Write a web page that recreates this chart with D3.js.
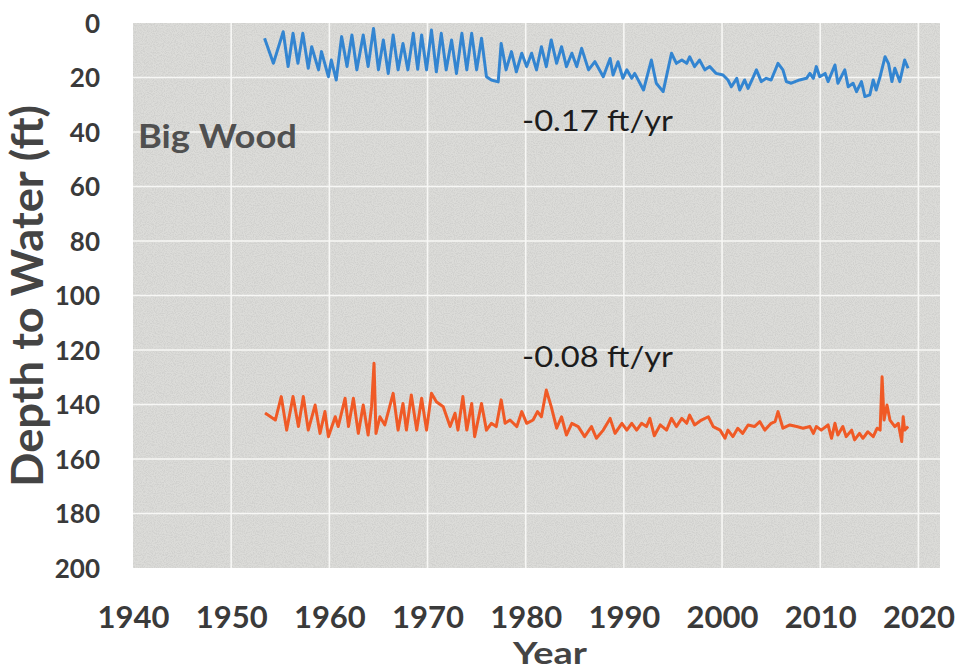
<!DOCTYPE html>
<html>
<head>
<meta charset="utf-8">
<script src="https://cdn.jsdelivr.net/npm/d3@7"></script>
<style>
  body { margin: 0; background: #fff; }
  svg { display: block; }
</style>
</head>
<body>
<div id="chart"></div>
<script>
// Big Wood wells, depth to water (ft)
const shallowYears = [1953.4,1954.3,1955.3,1955.8,1956.3,1956.8,1957.3,1957.85,1958.2,1958.9,1959.2,1959.9,1960.2,1960.7,1961.25,1961.8,1962.3,1962.8,1963.45,1963.95,1964.5,1965,1965.5,1966,1966.5,1967,1967.5,1968,1968.55,1969,1969.4,1969.9,1970.4,1970.9,1971.4,1971.9,1972.45,1972.95,1973.5,1974,1974.5,1975,1975.5,1976,1976.5,1977.2,1977.5,1978,1978.55,1979.05,1979.6,1980.1,1980.6,1981.1,1981.6,1982.1,1982.6,1983.15,1983.65,1984.15,1984.7,1985.2,1985.7,1986.4,1987.05,1987.9,1988.6,1988.9,1989.4,1989.9,1990.3,1990.8,1991.1,1992,1992.8,1993.3,1994,1994.85,1995.35,1995.9,1996.4,1996.7,1997.2,1997.7,1998.25,1998.75,1999.4,2000.1,2000.6,2000.95,2001.5,2001.8,2002.3,2002.65,2003.2,2003.5,2004,2004.5,2005,2005.7,2006.2,2006.55,2007.05,2007.9,2008.6,2008.95,2009.3,2009.6,2009.95,2010.5,2010.8,2011.5,2011.8,2012.5,2012.85,2013.35,2013.7,2014.2,2014.55,2015.05,2015.4,2015.7,2016.1,2016.6,2016.95,2017.3,2017.6,2018.1,2018.6,2018.95];
const shallowDepth = [5.6,14.8,3.2,16,3.8,14.8,3.8,16.6,8.7,17.2,10.5,19.7,13.6,20.9,5,16,4.4,17.2,4.4,16,2,17.2,6.2,18.5,4.4,17.2,7.5,17.2,3.8,17,4.4,17.2,2.6,17.9,3.8,17.2,6.2,18.5,3.8,17.2,3.8,17.2,5.6,19.7,20.9,21.6,7.5,17.2,10.5,17.9,11.1,16,11.1,17.2,8.7,16,6.2,14.8,8.7,16,11.1,16,9.3,17.2,14.2,19.7,13,19.1,14.2,20.3,17.2,20.3,18.5,24.6,13.6,22.1,25.2,11.1,14.8,13.6,14.8,12.4,16,13.6,17.2,16,18.5,19.1,20.9,23.4,20.3,24.6,20.9,24,19.7,17.2,21.5,20.3,20.9,14.8,17.2,21.5,22.1,20.9,20.3,18.5,20.3,16,19.7,18.5,21.5,15.4,22.1,17.2,23.4,22.1,25.2,21.5,27,26.4,20.9,24.6,19.7,12.4,14.8,21.5,16.6,21.5,13.6,16.6];

const deepYears = [1953.45,1954.5,1955.1,1955.65,1956.3,1956.85,1957.35,1957.85,1958.55,1959.05,1959.55,1959.9,1960.6,1960.9,1961.6,1961.95,1962.45,1962.95,1963.45,1963.95,1964.3,1964.55,1964.75,1965.15,1965.65,1966.5,1967,1967.5,1967.85,1968.35,1968.9,1969.4,1969.9,1970.4,1970.9,1971.6,1972.3,1972.8,1973.1,1973.6,1974,1974.5,1974.8,1975.5,1976,1976.5,1977,1977.5,1977.9,1978.4,1979.1,1979.6,1980.1,1980.75,1981.2,1981.6,1982.1,1982.6,1983.15,1983.65,1984.15,1984.7,1985.35,1986,1986.7,1987.2,1987.9,1988.6,1989.1,1989.8,1990.3,1990.8,1991.3,1991.8,1992.3,1992.65,1993.1,1993.7,1994.35,1994.85,1995.35,1995.9,1996.4,1996.7,1997.2,1997.9,1998.6,1999.1,1999.8,2000.3,2000.6,2001.1,2001.6,2002.1,2002.65,2003.3,2003.85,2004.35,2005,2005.4,2005.7,2006.2,2006.9,2007.6,2008.25,2008.95,2009.3,2009.6,2010.1,2010.8,2011.15,2011.5,2011.8,2012.3,2012.65,2013.2,2013.5,2014,2014.35,2014.85,2015.4,2015.8,2016.1,2016.3,2016.5,2016.8,2017.1,2017.6,2017.95,2018.3,2018.45,2018.6,2018.95];
const deepDepth = [143.1,145.7,137.1,149.4,137.1,148.1,137.1,149.4,140.2,150.6,142.6,151.8,144.5,148.1,137.7,148.1,137.7,150.6,140.2,151.2,140.8,124.9,150.6,144.5,147.5,135.9,149.4,139.6,149.4,136.5,149.4,137.7,149.4,135.9,139,140.8,148.1,143.2,149.4,137.1,149.4,139.6,151.8,139.6,149.4,146.9,148.1,138.3,146.9,145.7,148.1,142.6,146.9,145.7,142.6,144.5,134.7,140.8,148.7,144.5,151.2,146.9,148.1,151.8,148.1,152.4,149.4,145.1,150.6,146.9,149.4,146.9,149.4,146.9,148.1,145.1,151.5,147.5,149.4,145.1,148.1,145.1,146.9,143.9,147.5,145.7,144.5,148.1,149.4,152.4,149.4,151.8,148.7,150.6,147.5,148.1,146.3,149.4,146.9,146.3,142.6,148.7,147.5,148.1,148.7,148.1,150.6,148.1,149.4,147.5,152.4,146.9,151.2,148.1,151.8,149.4,153,150.6,152.4,150,151.8,148.7,149.4,129.8,145.7,140.2,145.7,148.1,146.9,153.6,144.5,149.4,148.1];

const xTicks = [1940, 1950, 1960, 1970, 1980, 1990, 2000, 2010, 2020];
const yTicks = [0, 20, 40, 60, 80, 100, 120, 140, 160, 180, 200];
const trendLabels = ["-0.17 ft/yr", "-0.08 ft/yr"];

const W = 959, H = 670;
const plotLeft = 133, plotRight = 940, plotTop = 23, plotBottom = 568;

const svg = d3.select("#chart").append("svg")
    .attr("width", W)
    .attr("height", H);

// paper-like speckle
const defs = svg.append("defs");
const f = defs.append("filter").attr("id", "speckle").attr("x", 0).attr("y", 0).attr("width", 1).attr("height", 1);
f.append("feTurbulence").attr("type", "fractalNoise").attr("baseFrequency", 0.9).attr("numOctaves", 2).attr("seed", 3);
f.append("feColorMatrix").attr("type", "matrix")
    .attr("values", "0 0 0 0 0.5  0 0 0 0 0.5  0 0 0 0 0.49  0 0 0 -3 1.85");
f.append("feComposite").attr("in2", "SourceGraphic").attr("operator", "in");

const x = d3.scaleLinear().domain([1940, 2022.2]).range([plotLeft, plotRight]);
const y = d3.scaleLinear().domain([0, 200]).range([plotTop, plotBottom]);

svg.append("rect")
    .attr("x", plotLeft).attr("y", plotTop)
    .attr("width", plotRight - plotLeft).attr("height", plotBottom - plotTop)
    .attr("fill", "#dcdcd9");

svg.append("rect")
    .attr("x", plotLeft).attr("y", plotTop)
    .attr("width", plotRight - plotLeft).attr("height", plotBottom - plotTop)
    .attr("fill", "#fff")
    .attr("filter", "url(#speckle)")
    .attr("opacity", 0.35);

// grid
svg.append("g").selectAll("line")
    .data(xTicks.filter(d => d > 1940))
    .enter().append("line")
    .attr("x1", d => x(d)).attr("x2", d => x(d))
    .attr("y1", plotTop).attr("y2", plotBottom)
    .attr("stroke", "#f7f7f5").attr("stroke-width", 1.6);

svg.append("g").selectAll("line")
    .data(yTicks.filter(d => d > 0 && d < 200))
    .enter().append("line")
    .attr("x1", plotLeft).attr("x2", plotRight)
    .attr("y1", d => y(d)).attr("y2", d => y(d))
    .attr("stroke", "#f7f7f5").attr("stroke-width", 1.6);

// axes
const xAxis = svg.append("g")
    .attr("transform", `translate(0,${plotBottom})`)
    .call(d3.axisBottom(x).tickValues(xTicks).tickFormat(d3.format("d")).tickSize(0).tickPadding(38));
xAxis.select(".domain").remove();
xAxis.selectAll("text")
    .style("font-family", "Lato, 'Open Sans', sans-serif")
    .style("font-weight", 700)
    .style("font-size", "31px")
    .attr("fill", "#3a3a3a");

const yAxis = svg.append("g")
    .attr("transform", `translate(${plotLeft},0)`)
    .call(d3.axisLeft(y).tickValues(yTicks).tickSize(0).tickPadding(33));
yAxis.select(".domain").remove();
yAxis.selectAll("text")
    .attr("dy", "0.36em")
    .style("font-family", "Lato, 'Open Sans', sans-serif")
    .style("font-weight", 700)
    .style("font-size", "26px")
    .attr("fill", "#3a3a3a");

// axis titles
svg.append("text")
    .attr("x", 550).attr("y", 664)
    .attr("text-anchor", "middle")
    .attr("textLength", 74).attr("lengthAdjust", "spacingAndGlyphs")
    .style("font-family", "Lato, 'Open Sans', sans-serif")
    .style("font-weight", 700)
    .style("font-size", "30px")
    .attr("fill", "#444")
    .text("Year");

svg.append("text")
    .attr("transform", "translate(43,296) rotate(-90)")
    .attr("text-anchor", "middle")
    .attr("textLength", 382).attr("lengthAdjust", "spacingAndGlyphs")
    .style("font-family", "Lato, 'Open Sans', sans-serif")
    .style("font-weight", 700)
    .style("font-size", "43px")
    .attr("fill", "#444")
    .text("Depth to Water (ft)");

// series
const line = d3.line().x(d => x(d[0])).y(d => y(d[1]));

svg.append("path")
    .datum(shallowYears.map((yr, i) => [yr, shallowDepth[i]]))
    .attr("d", line)
    .attr("fill", "none")
    .attr("stroke", "#3385d1")
    .attr("stroke-width", 3)
    .attr("stroke-linejoin", "round");

svg.append("path")
    .datum(deepYears.map((yr, i) => [yr, deepDepth[i]]))
    .attr("d", line)
    .attr("fill", "none")
    .attr("stroke", "#f05a26")
    .attr("stroke-width", 3)
    .attr("stroke-linejoin", "round");

// annotations
svg.append("text")
    .attr("x", 138).attr("y", 148)
    .attr("textLength", 159).attr("lengthAdjust", "spacingAndGlyphs")
    .style("font-family", "Lato, 'Open Sans', sans-serif")
    .style("font-weight", 700)
    .style("font-size", "32px")
    .attr("fill", "#505050")
    .text("Big Wood");

svg.selectAll(".trend")
    .data(trendLabels)
    .enter().append("text")
    .attr("class", "trend")
    .attr("x", 522)
    .attr("y", (d, i) => i === 0 ? 131 : 367)
    .attr("textLength", 151).attr("lengthAdjust", "spacingAndGlyphs")
    .style("font-family", "Lato, 'Open Sans', sans-serif")
    .style("font-size", "28px")
    .attr("fill", "#1c1c1c")
    .text(d => d);
</script>
</body>
</html>
